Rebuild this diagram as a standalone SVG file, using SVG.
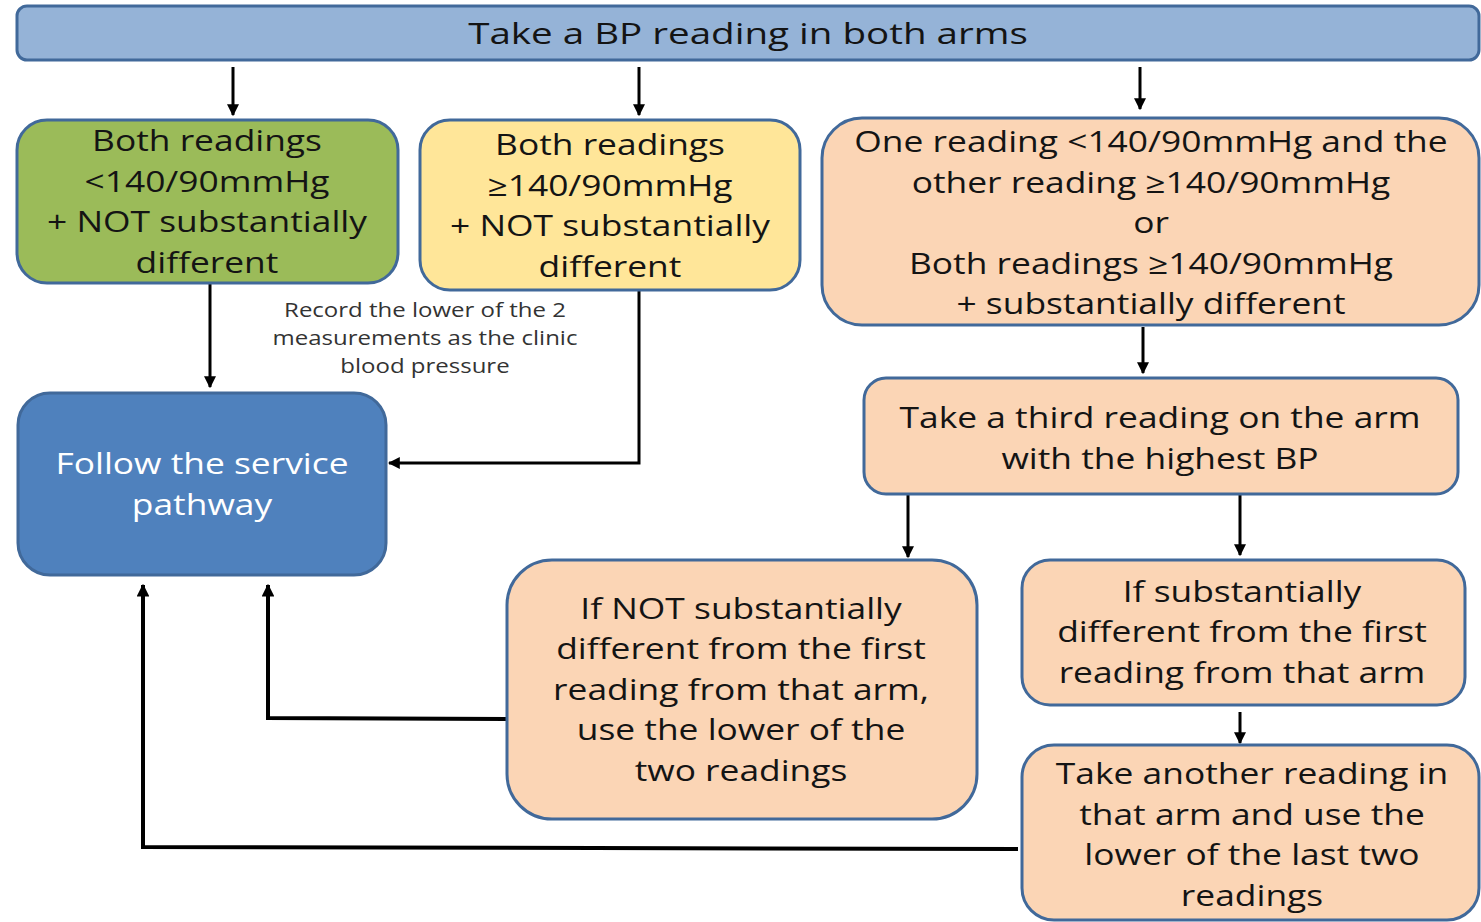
<svg xmlns="http://www.w3.org/2000/svg" width="1481" height="922" viewBox="0 0 1481 922">
  <defs>
    <style>
      .box { stroke: #41699a; stroke-width: 3; }
      .t { font-family: "Open Sans", "Noto Sans", "DejaVu Sans", sans-serif; font-size: 29px; fill: #141414; text-anchor: middle; }
      .w { fill: #ffffff; }
      .note { font-family: "Open Sans", "Noto Sans", "DejaVu Sans", sans-serif; font-size: 20px; fill: #333333; text-anchor: middle; }
      .c { fill: none; stroke: #000000; stroke-width: 3; }
      .cb { fill: none; stroke: #000000; stroke-width: 4; }
    </style>
    <marker id="ah" viewBox="0 0 10 10" refX="9" refY="5" markerWidth="4" markerHeight="4" markerUnits="strokeWidth" orient="auto">
      <path d="M0,0 L10,5 L0,10 z" fill="#000000"/>
    </marker>
    <marker id="ahs" viewBox="0 0 10 10" refX="9" refY="5" markerWidth="3.2" markerHeight="3.2" markerUnits="strokeWidth" orient="auto">
      <path d="M0,0 L10,5 L0,10 z" fill="#000000"/>
    </marker>
  </defs>

  <rect width="1481" height="922" fill="#ffffff"/>

  <!-- connectors -->
  <g id="connectors">
    <line class="c" x1="233" y1="67" x2="233" y2="115" marker-end="url(#ah)"/>
    <line class="c" x1="639" y1="67" x2="639" y2="115" marker-end="url(#ah)"/>
    <line class="c" x1="1140" y1="67" x2="1140" y2="109" marker-end="url(#ah)"/>
    <line class="c" x1="210" y1="284" x2="210" y2="387" marker-end="url(#ah)"/>
    <polyline class="c" points="639,291 639,463 389,463" marker-end="url(#ah)"/>
    <line class="c" x1="1143" y1="327" x2="1143" y2="373" marker-end="url(#ah)"/>
    <line class="c" x1="908" y1="495" x2="908" y2="557" marker-end="url(#ah)"/>
    <line class="c" x1="1240" y1="495" x2="1240" y2="555" marker-end="url(#ah)"/>
    <line class="c" x1="1240" y1="712" x2="1240" y2="743" marker-end="url(#ah)"/>
    <polyline class="cb" points="507,719 268,718 268,585" marker-end="url(#ahs)"/>
    <polyline class="cb" points="1018,849 143,847 143,585" marker-end="url(#ahs)"/>
  </g>

  <!-- top bar -->
  <g id="start">
    <rect class="box" x="17" y="6" width="1462" height="54" rx="10" fill="#95b3d7"/>
    <g transform="translate(748 0) scale(1.33 1)">
      <text class="t" x="0" y="44" font-size="30">Take a BP reading in both arms</text>
    </g>
  </g>

  <g id="both-low">
    <rect class="box" x="17" y="120" width="381" height="163" rx="30" fill="#9bbb59"/>
    <g transform="translate(207 0) scale(1.22 1)">
      <text class="t" x="0" y="151">Both readings</text>
      <text class="t" x="0" y="192">&lt;140/90mmHg</text>
      <text class="t" x="0" y="232">+ NOT substantially</text>
      <text class="t" x="0" y="273">different</text>
    </g>
  </g>

  <g id="both-high">
    <rect class="box" x="420" y="120" width="380" height="170" rx="30" fill="#ffe699"/>
    <g transform="translate(610 0) scale(1.22 1)">
      <text class="t" x="0" y="155">Both readings</text>
      <text class="t" x="0" y="196">≥140/90mmHg</text>
      <text class="t" x="0" y="236">+ NOT substantially</text>
      <text class="t" x="0" y="277">different</text>
    </g>
  </g>

  <g id="mixed">
    <rect class="box" x="822" y="118" width="657" height="207" rx="40" fill="#fbd5b5"/>
    <g transform="translate(1151 0) scale(1.22 1)">
      <text class="t" x="0" y="152">One reading &lt;140/90mmHg and the</text>
      <text class="t" x="0" y="193">other reading ≥140/90mmHg</text>
      <text class="t" x="0" y="233">or</text>
      <text class="t" x="0" y="274">Both readings ≥140/90mmHg</text>
      <text class="t" x="0" y="314">+ substantially different</text>
    </g>
  </g>

  <g id="note">
    <g transform="translate(425 0) scale(1.2 1)">
      <text class="note" x="0" y="317">Record the lower of the 2</text>
      <text class="note" x="0" y="345">measurements as the clinic</text>
      <text class="note" x="0" y="373">blood pressure</text>
    </g>
  </g>

  <g id="service">
    <rect class="box" x="18" y="393" width="368" height="182" rx="32" fill="#4f81bd"/>
    <g transform="translate(202 0) scale(1.22 1)">
      <text class="t w" x="0" y="474">Follow the service</text>
      <text class="t w" x="0" y="515">pathway</text>
    </g>
  </g>

  <g id="third">
    <rect class="box" x="864" y="378" width="594" height="116" rx="22" fill="#fbd5b5"/>
    <g transform="translate(1160 0) scale(1.22 1)">
      <text class="t" x="0" y="428">Take a third reading on the arm</text>
      <text class="t" x="0" y="469">with the highest BP</text>
    </g>
  </g>

  <g id="not-diff">
    <rect class="box" x="507" y="560" width="470" height="259" rx="45" fill="#fbd5b5"/>
    <g transform="translate(741 0) scale(1.22 1)">
      <text class="t" x="0" y="619">If NOT substantially</text>
      <text class="t" x="0" y="659">different from the first</text>
      <text class="t" x="0" y="700">reading from that arm,</text>
      <text class="t" x="0" y="740">use the lower of the</text>
      <text class="t" x="0" y="781">two readings</text>
    </g>
  </g>

  <g id="diff">
    <rect class="box" x="1022" y="560" width="443" height="145" rx="28" fill="#fbd5b5"/>
    <g transform="translate(1242 0) scale(1.22 1)">
      <text class="t" x="0" y="602">If substantially</text>
      <text class="t" x="0" y="642">different from the first</text>
      <text class="t" x="0" y="683">reading from that arm</text>
    </g>
  </g>

  <g id="another">
    <rect class="box" x="1022" y="745" width="457" height="175" rx="32" fill="#fbd5b5"/>
    <g transform="translate(1252 0) scale(1.22 1)">
      <text class="t" x="0" y="784">Take another reading in</text>
      <text class="t" x="0" y="825">that arm and use the</text>
      <text class="t" x="0" y="865">lower of the last two</text>
      <text class="t" x="0" y="906">readings</text>
    </g>
  </g>
</svg>
